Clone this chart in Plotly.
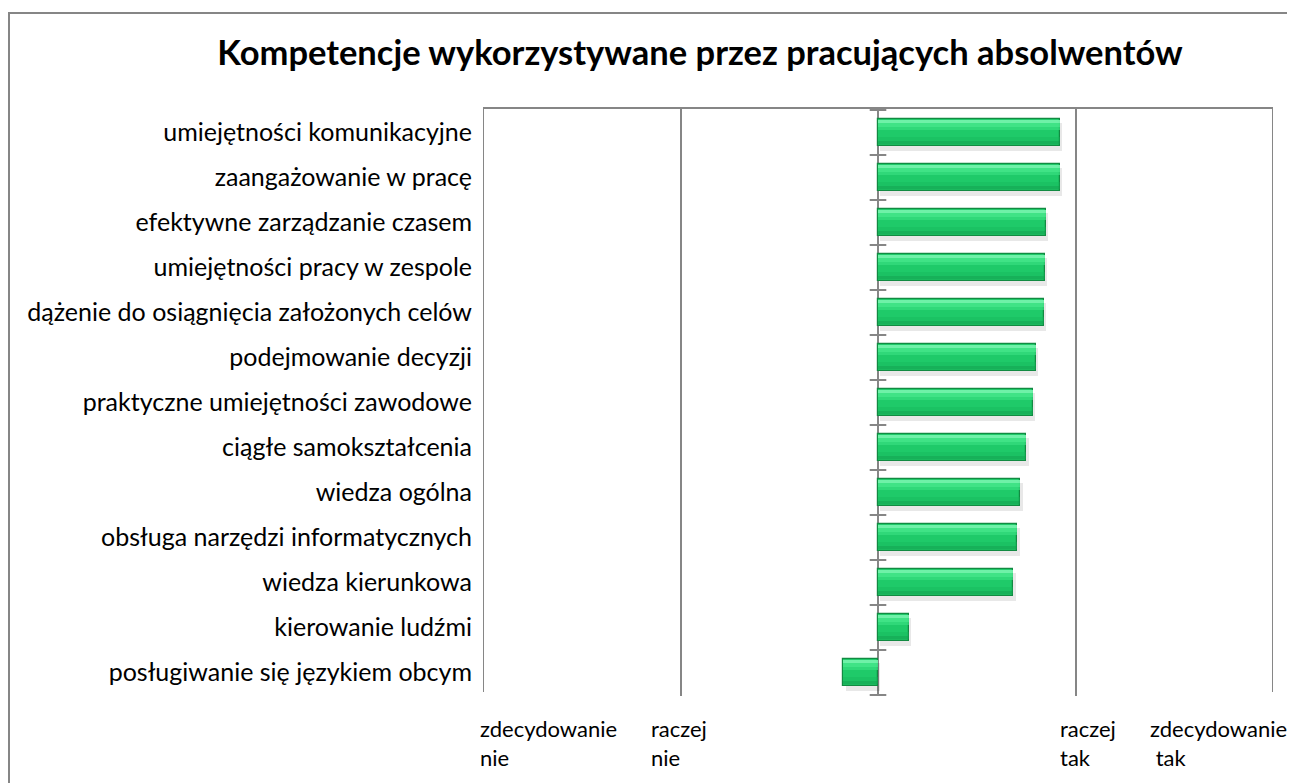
import plotly.graph_objects as go

# ---- data ----
categories = [
    "umiejętności komunikacyjne",
    "zaangażowanie w pracę",
    "efektywne zarządzanie czasem",
    "umiejętności pracy w zespole",
    "dążenie do osiągnięcia założonych celów",
    "podejmowanie decyzji",
    "praktyczne umiejętności zawodowe",
    "ciągłe samokształcenia",
    "wiedza ogólna",
    "obsługa narzędzi informatycznych",
    "wiedza kierunkowa",
    "kierowanie ludźmi",
    "posługiwanie się językiem obcym",
]
values = [0.92, 0.92, 0.85, 0.845, 0.84, 0.80, 0.785, 0.75, 0.72, 0.705, 0.685, 0.155, -0.175]

scale_vals = [-2, -1, 1, 2]
scale_line1 = ["zdecydowanie", "raczej", "raczej", "zdecydowanie"]
scale_line2 = ["nie", "nie", "tak", " tak"]
scale_shift = [-5, -32, -18, -125]

title_text = "Kompetencje wykorzystywane przez pracujących absolwentów"

FONT = "Lato, 'Open Sans', sans-serif"
GRAY = "#868686"

OFF = 8  # page body margin
W, H = 1295 - OFF, 783 - OFF
L, T = 483 - OFF, 109 - OFF
PR, PB = 1273 - OFF, 696 - OFF
R, B = W - PR, H - PB
PW, PH = PR - L, PB - T

BW = 0.62

fig = go.Figure()

# soft shadow
fig.add_trace(go.Bar(
    y=categories, x=values, base=[0.012] * len(values), orientation="h",
    width=BW, offset=-BW / 2 + 0.09,
    marker=dict(color="rgba(0,0,0,0.09)", line=dict(width=0)),
    hoverinfo="skip", showlegend=False,
))
# main bar
fig.add_trace(go.Bar(
    y=categories, x=values, orientation="h",
    width=BW, offset=-BW / 2,
    marker=dict(color="#1fca69", line=dict(color="#128a42", width=1.2)),
    showlegend=False,
))
# gradient-like bands (top light -> bottom dark)
band_specs = [
    (0.04, 0.06, "rgba(120,245,175,0.9)"),
    (0.10, 0.08, "rgba(70,232,140,0.85)"),
    (0.18, 0.08, "rgba(55,222,128,0.7)"),
    (0.40, 0.10, "rgba(20,180,88,0.35)"),
    (0.50, 0.07, "rgba(18,160,78,0.6)"),
]
for off, wd, col in band_specs:
    fig.add_trace(go.Bar(
        y=categories, x=values, orientation="h",
        width=wd, offset=-BW / 2 + off,
        marker=dict(color=col, line=dict(width=0)),
        hoverinfo="skip", showlegend=False,
    ))

shapes = []
# tick marks crossing the value-zero axis at category boundaries
for i in range(len(categories) + 1):
    shapes.append(dict(type="line", xref="x", yref="y",
                       x0=-0.042, x1=0.042, y0=i - 0.5, y1=i - 0.5,
                       line=dict(color=GRAY, width=2), layer="above"))
# edge gridlines
for v in (-2, 2):
    shapes.append(dict(type="line", xref="x", yref="paper", x0=v, x1=v, y0=0.007, y1=1,
                       line=dict(color=GRAY, width=2), layer="below"))
# outer chart border
shapes.append(dict(type="rect", xref="paper", yref="paper",
                   x0=(1 - L) / PW, x1=(W + 10 - L) / PW,
                   y0=-(H + 10 - PB) / PH, y1=(PB - 5) / PH,
                   line=dict(color=GRAY, width=2), fillcolor="rgba(0,0,0,0)", layer="below"))

annotations = []
for v, l1, l2, s in zip(scale_vals, scale_line1, scale_line2, scale_shift):
    annotations.append(dict(x=v, xref="x", y=-(728 - OFF - PB) / PH, yref="paper",
                            text=l1, showarrow=False, xanchor="left", yanchor="middle",
                            xshift=s, font=dict(family=FONT, size=22, color="#000000")))
    annotations.append(dict(x=v, xref="x", y=-(757 - OFF - PB) / PH, yref="paper",
                            text=l2, showarrow=False, xanchor="left", yanchor="middle",
                            xshift=s, font=dict(family=FONT, size=22, color="#000000")))

fig.update_layout(
    width=W, height=H,
    margin=dict(l=L, r=R, t=T, b=B, autoexpand=False),
    paper_bgcolor="white", plot_bgcolor="white",
    barmode="overlay", bargap=0,
    title=dict(text="<b>" + title_text + "</b>", x=(700 - OFF) / W, xanchor="center",
               y=1 - (53 - OFF) / H, yanchor="middle", yref="container",
               font=dict(family=FONT, size=34.5, color="#000000")),
    xaxis=dict(range=[-2, 2], tickvals=[-2, -1, 0, 1, 2], showticklabels=False,
               showgrid=True, gridcolor=GRAY, gridwidth=2,
               zeroline=True, zerolinecolor=GRAY, zerolinewidth=2,
               showline=True, linecolor=GRAY, linewidth=2, side="top", mirror=False,
               ticks="", fixedrange=True),
    yaxis=dict(categoryorder="array", categoryarray=categories, autorange="reversed",
               showgrid=False, zeroline=False, showline=False, ticks="",
               ticklabelstandoff=10,
               tickfont=dict(family=FONT, size=25, color="#000000")),
    shapes=shapes, annotations=annotations,
    font=dict(family=FONT, color="#000000"),
)

fig.write_html("out.html")
